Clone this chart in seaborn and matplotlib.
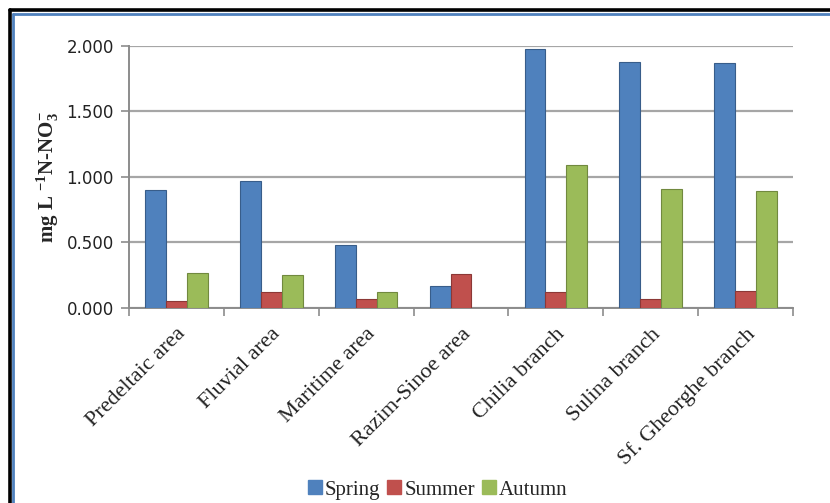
import matplotlib
matplotlib.use("Agg")
import matplotlib.pyplot as plt
from matplotlib.lines import Line2D
from matplotlib.ticker import FixedLocator
import numpy as np
import pandas as pd
import seaborn as sns

# Values (mg L-1 N-NO3-)
areas = ["Predeltaic area", "Fluvial area", "Maritime area", "Razim-Sinoe area",
         "Chilia branch", "Sulina branch", "Sf. Gheorghe branch"]
seasons = ["Spring", "Summer", "Autumn"]
spring = [0.90, 0.97, 0.48, 0.17, 1.98, 1.88, 1.87]
summer = [0.05, 0.12, 0.07, 0.26, 0.12, 0.07, 0.13]
autumn = [0.27, 0.25, 0.12, np.nan, 1.09, 0.91, 0.89]
colors = ["#4F81BD", "#C0504D", "#9BBB59"]
edges = ["#385D8A", "#8C3836", "#71893F"]

df = pd.DataFrame({"area": areas * 3,
                   "season": np.repeat(seasons, len(areas)),
                   "value": spring + summer + autumn}).dropna()

sns.set_style("white")
serif = ["Liberation Serif", "DejaVu Serif"]
plt.rcParams["mathtext.fontset"] = "custom"
plt.rcParams["mathtext.rm"] = "Liberation Serif:bold"
plt.rcParams["mathtext.bf"] = "Liberation Serif:bold"
plt.rcParams["mathtext.default"] = "bf"

fig = plt.figure(figsize=(8.3, 5.03), dpi=100)
ax = fig.add_axes([0.1554, 0.3877, 0.80, 0.5209])

sns.barplot(data=df, x="area", y="value", hue="season", order=areas,
            hue_order=seasons, palette=colors, width=0.66, ax=ax,
            legend=False, saturation=1)
for cont, ec in zip(ax.containers, edges):
    for bar in cont:
        bar.set_edgecolor(ec)
        bar.set_linewidth(0.8)
        bar.set_zorder(3)

ax.set_ylim(0, 2.0)
ax.set_xlim(-0.5, len(areas) - 0.5)
ax.set_yticks([0, 0.5, 1.0, 1.5, 2.0])
ax.set_yticklabels(["0.000", "0.500", "1.000", "1.500", "2.000"],
                   fontsize=12, family="DejaVu Sans", color="#222222")
ax.yaxis.grid(True, color="#A6A6A6", linewidth=1.6, zorder=0)
ax.set_axisbelow(True)

# category labels, tick marks at category boundaries
ax.set_xticks(range(len(areas)))
ax.set_xticklabels(areas, rotation=45, ha="right", rotation_mode="anchor",
                   fontsize=16, family=serif, color="#222222")
ax.xaxis.set_minor_locator(FixedLocator(np.arange(-0.5, len(areas), 1.0)))
ax.tick_params(axis="x", which="major", length=0, pad=12)
ax.tick_params(axis="x", which="minor", length=6, width=1.2, color="#8C8C8C",
               bottom=True)
ax.tick_params(axis="y", length=6, width=1.2, color="#8C8C8C", left=True, pad=5)

for side in ["top", "right"]:
    ax.spines[side].set_visible(False)
for side in ["left", "bottom"]:
    ax.spines[side].set_color("#8C8C8C")
    ax.spines[side].set_linewidth(1.4)

ax.set_xlabel("")
ax.set_ylabel("mg L $^{-1}$N-NO$_3^{-}$", fontsize=15, fontweight="bold",
              family=serif, labelpad=4)

handles = [Line2D([], [], marker="s", linestyle="", markersize=10,
                  markerfacecolor=c, markeredgecolor=c) for c in colors]
fig.legend(handles, seasons, loc="center", bbox_to_anchor=(0.527, 0.026),
           ncol=3, frameon=False, handlelength=0.7, handletextpad=0.15,
           columnspacing=0.3, prop={"family": serif, "size": 15})

# chart frame: black outer line and blue inner line
fig.add_artist(Line2D([0.0115, 0.0115], [0, 0.980], color="black", lw=2.6))
fig.add_artist(Line2D([0.0115, 1], [0.980, 0.980], color="black", lw=2.6))
fig.add_artist(Line2D([0.0157, 0.0157], [0, 0.972], color="#4F81BD", lw=2.0))
fig.add_artist(Line2D([0.0157, 1], [0.972, 0.972], color="#4F81BD", lw=2.0))

fig.savefig("out.png", dpi=100)
